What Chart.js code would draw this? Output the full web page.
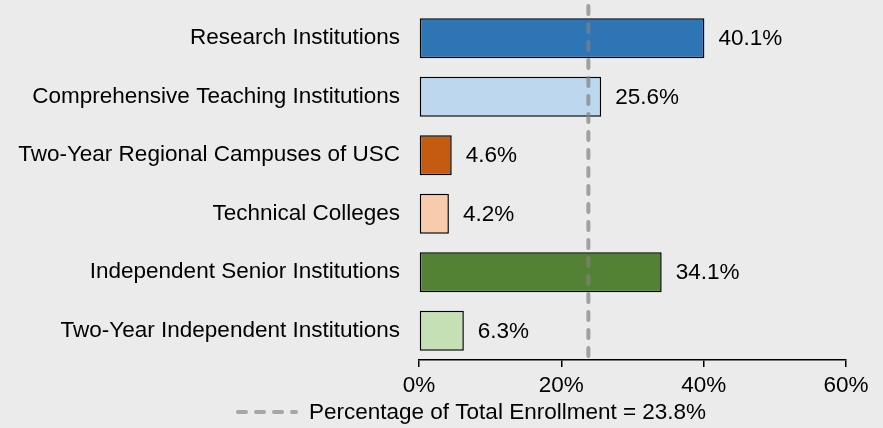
<!DOCTYPE html>
<html>
<head>
<meta charset="utf-8">
<script src="https://cdn.jsdelivr.net/npm/chart.js@4/dist/chart.umd.min.js"></script>
<style>
  html, body { margin: 0; padding: 0; background: #ebebeb; }
  #wrap { width: 883px; height: 428px; position: relative; }
</style>
</head>
<body>
<div id="wrap"><canvas id="enrollChart"></canvas></div>
<script>
// Data
const categories = [
    'Research Institutions',
    'Comprehensive Teaching Institutions',
    'Two-Year Regional Campuses of USC',
    'Technical Colleges',
    'Independent Senior Institutions',
    'Two-Year Independent Institutions'
];
const shares = [40.1, 25.6, 4.6, 4.2, 34.1, 6.3];
const xTicks = [0, 20, 40, 60];
const referenceShare = 23.8;
const referenceLabel = 'Percentage of Total Enrollment = 23.8%';

const barColors = ['#2e75b6', '#bdd7ee', '#c55a11', '#f8cbad', '#548235', '#c5e0b4'];

const FONT = '"Liberation Sans", Arial, sans-serif';
Chart.defaults.font.family = FONT;
Chart.defaults.font.size = 22.5;
Chart.defaults.color = '#000';

// value labels + reference line + legend
const annotations = {
    id: 'annotations',
    afterDatasetsDraw(chart) {
        const ctx = chart.ctx;
        const xs = chart.scales.x;
        const meta = chart.getDatasetMeta(0);
        ctx.save();
        ctx.font = '22.5px ' + FONT;
        ctx.fillStyle = '#000';
        ctx.textAlign = 'left';
        ctx.textBaseline = 'middle';
        meta.data.forEach((bar, i) => {
            ctx.fillText(shares[i].toFixed(1) + '%', bar.x + 14, bar.y + 1);
        });

        // reference line
        const rx = xs.getPixelForValue(referenceShare);
        ctx.strokeStyle = 'rgba(128,128,128,0.7)';
        ctx.lineWidth = 4;
        ctx.lineCap = 'round';
        ctx.setLineDash([8, 10]);
        ctx.beginPath();
        ctx.moveTo(rx, chart.chartArea.top - 3);
        ctx.lineTo(rx, chart.chartArea.bottom - 2);
        ctx.stroke();

        // legend
        const ly = 412;
        ctx.strokeStyle = '#a6a6a6';
        ctx.setLineDash([8, 10]);
        ctx.beginPath();
        ctx.moveTo(238, ly);
        ctx.lineTo(296, ly);
        ctx.stroke();
        ctx.setLineDash([]);
        ctx.fillText(referenceLabel, 309, ly + 1);
        ctx.restore();
    }
};

new Chart(document.getElementById('enrollChart'), {
    type: 'bar',
    data: {
        labels: categories,
        datasets: [{
            data: shares,
            backgroundColor: barColors,
            borderColor: '#000',
            borderWidth: 1.5,
            borderSkipped: false,
            barPercentage: 0.68,
            categoryPercentage: 1
        }]
    },
    options: {
        indexAxis: 'y',
        responsive: true,
        maintainAspectRatio: false,
        animation: false,
        layout: { padding: { top: 9, right: 37, bottom: 18, left: 0 } },
        plugins: {
            legend: { display: false },
            tooltip: { enabled: false }
        },
        scales: {
            x: {
                min: 0,
                max: 60,
                afterBuildTicks: (scale) => { scale.ticks = xTicks.map(v => ({ value: v })); },
                afterFit: (scale) => { scale.height = 50; scale.paddingLeft = 0; scale.paddingRight = 0; },
                ticks: {
                    callback: (v) => v + '%',
                    padding: 5,
                    maxRotation: 0
                },
                grid: {
                    display: true,
                    drawOnChartArea: false,
                    drawTicks: true,
                    tickLength: 7,
                    color: '#000',
                    lineWidth: 1.5
                },
                border: { display: true, color: '#000', width: 1.5 }
            },
            y: {
                afterFit: (scale) => { scale.width = 419; scale.paddingTop = 0; scale.paddingBottom = 0; },
                ticks: { padding: 19 },
                grid: { display: false, drawTicks: false },
                border: { display: false }
            }
        }
    },
    plugins: [annotations]
});
</script>
</body>
</html>
